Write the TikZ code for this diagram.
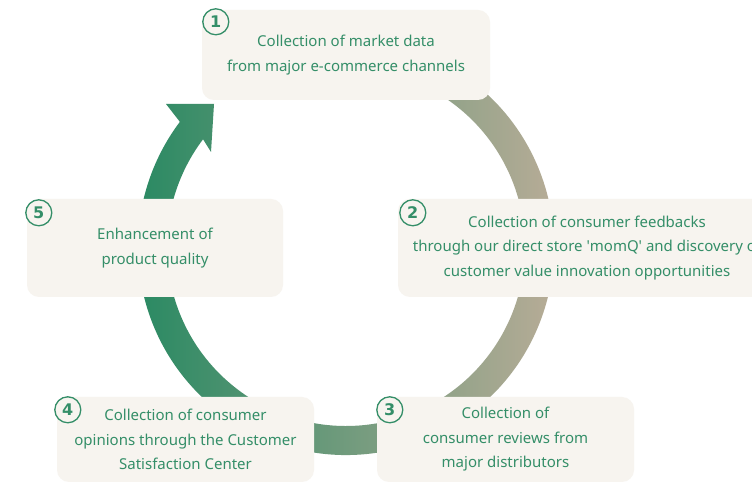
\documentclass[tikz,border=0pt]{standalone}
\usepackage{fontspec}
\setmainfont{Noto Sans}
\newfontfamily\angka{DejaVu Sans}
\usepackage{xcolor}
\usepackage{tikz}
\definecolor{hijau}{RGB}{40,137,98}
\definecolor{tengah}{RGB}{138,160,132}
\definecolor{teks}{RGB}{52,142,104}
\definecolor{krem}{RGB}{247,244,239}
\definecolor{cokelat}{RGB}{192,174,154}
\tikzset{
  langkah/.style={rectangle, rounded corners=12pt, fill=krem, inner sep=0pt,
    align=center, text=teks, font=\fontsize{15}{24.5}\selectfont},
  nomor/.style={circle, draw=teks, fill=krem, line width=1.3pt, inner sep=0pt,
    minimum size=26pt, text=teks, font=\angka\bfseries\fontsize{16}{16}\selectfont}
}

\begin{document}
\begin{tikzpicture}[x=1pt, y=1pt]
  \clip (0,0) rectangle (752,484);
  \fill[white] (0,0) rectangle (752,484);
  \coordinate (pusat) at (346,237);
  % lingkaran siklus
  \shade[left color=hijau, middle color=tengah, right color=cokelat]
    ([shift={(70:208)}]pusat) arc[start angle=70, end angle=-217, radius=208]
    -- (166,380) -- (214,380) -- (211,332)
    -- ([shift={(-217:179)}]pusat) arc[start angle=-217, end angle=70, radius=179]
    -- cycle;
  % kotak langkah
  \node[langkah, minimum width=288pt, minimum height=90pt] (l1) at (346,429)
    {Collection of market data\\from major e-commerce channels};
  \node[langkah, minimum width=378pt, minimum height=98pt] (l2) at (587,236)
    {Collection of consumer feedbacks\\through our direct store \textquotesingle momQ\textquotesingle{} and discovery of\\customer value innovation opportunities};
  \node[langkah, minimum width=257pt, minimum height=85pt] (l3) at (505.5,44.5)
    {Collection of\\consumer reviews from\\major distributors};
  \node[langkah, minimum width=257pt, minimum height=85pt] (l4) at (185.5,44.5)
    {Collection of consumer\\opinions through the Customer\\Satisfaction Center};
  \node[langkah, minimum width=256pt, minimum height=98pt] (l5) at (155,236)
    {Enhancement of\\product quality};
  % nomor
  \node[nomor] (n1) at ([shift={(14,-12)}]l1.north west) {1};
  \node[nomor] (n2) at ([shift={(15,-14)}]l2.north west) {2};
  \node[nomor] (n3) at ([shift={(13,-13)}]l3.north west) {3};
  \node[nomor] (n4) at ([shift={(11,-13)}]l4.north west) {4};
  \node[nomor] (n5) at ([shift={(12,-14)}]l5.north west) {5};
\end{tikzpicture}
\end{document}
